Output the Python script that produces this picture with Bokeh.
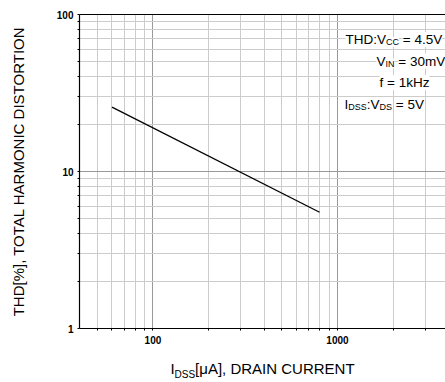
import math
from bokeh.plotting import figure
from bokeh.models import Range1d, FixedTicker, LogAxis, Label, PrintfTickFormatter
from bokeh.embed import file_html
from bokeh.resources import INLINE

# ---- data ----
idss_ua = [60, 800]          # drain current, uA
thd_pct = [25.7, 5.5]        # total harmonic distortion, %

x_major = [100, 1000]
x_minor = [50, 60, 70, 80, 90, 200, 300, 400, 500, 600, 700, 800, 900, 2000, 3000]
y_major = [1, 10, 100]
y_minor = [2, 3, 4, 5, 6, 7, 8, 9, 20, 30, 40, 50, 60, 70, 80, 90]

FONT = "Liberation Sans"
FL, FT, FW, FH = 79, 14, 366, 314
FB = FT + FH
X0, X1 = 40, 3850

p = figure(x_axis_type="log", y_axis_type="log",
           x_range=Range1d(X0, X1), y_range=Range1d(1, 100),
           frame_width=FW, frame_height=FH,
           min_border_left=FL, min_border_right=0, min_border_top=FT,
           min_border_bottom=382 - FB,
           toolbar_location=None, output_backend="svg",
           background_fill_color="white", border_fill_color="white")
p.outline_line_color = None

p.xaxis.ticker = FixedTicker(ticks=x_major, minor_ticks=x_minor)
p.yaxis.ticker = FixedTicker(ticks=y_major, minor_ticks=y_minor)
for ax in (p.xaxis, p.yaxis):
    ax.formatter = PrintfTickFormatter(format="%d")
    ax.axis_line_color = "black"
    ax.axis_line_width = 1.2
    ax.major_tick_in = 0
    ax.major_tick_out = 2
    ax.minor_tick_in = 0
    ax.minor_tick_out = 2
    ax.major_tick_line_color = "black"
    ax.minor_tick_line_color = "black"
    ax.major_label_text_font = FONT
    ax.major_label_text_font_style = "bold"
    ax.major_label_text_font_size = "10px"
    ax.major_label_text_color = "black"
p.xaxis.major_label_standoff = 5
p.yaxis.major_label_standoff = 4

p.yaxis.axis_label = "THD[%], TOTAL HARMONIC DISTORTION"
p.yaxis.axis_label_text_font = FONT
p.yaxis.axis_label_text_font_size = "15px"
p.yaxis.axis_label_text_font_style = "normal"
p.yaxis.axis_label_text_color = "black"
p.yaxis.axis_label_standoff = 27

for g in (p.xgrid, p.ygrid):
    g.grid_line_color = "#999999"
    g.grid_line_width = 1
    g.minor_grid_line_color = "#cccccc"
    g.minor_grid_line_width = 1

top = LogAxis(ticker=FixedTicker(ticks=[]), axis_line_color="black",
              axis_line_width=1.2, major_label_text_font_size="0px",
              major_tick_out=0, minor_tick_out=0)
p.add_layout(top, "above")

p.line(idss_ua, thd_pct, line_color="black", line_width=1.3)

# ---- text helpers (Arial / Liberation Sans advance widths) ----
W = {" ": 278, "%": 889, ",": 278, ".": 278, ":": 278, "=": 584, "[": 278, "]": 278,
     "A": 667, "C": 722, "D": 722, "E": 667, "H": 722, "I": 278, "L": 556, "M": 833,
     "N": 722, "O": 778, "R": 722, "S": 667, "T": 611, "U": 722, "V": 667,
     "f": 278, "k": 500, "m": 833, "z": 500, "\u03bc": 576}
for d in "0123456789":
    W[d] = 556


def tw(s, size):
    return sum(W.get(c, 556) for c in s) * size / 1000.0


def run(x0, base, runs, bg=None):
    x = x0
    for txt, size, drop in runs:
        lead = len(txt) - len(txt.lstrip(" "))
        x += tw(" " * lead, size)
        body = txt.lstrip(" ")
        p.add_layout(Label(x=x - FL, y=FB - (base + drop), x_units="screen", y_units="screen",
                           text=body, text_font=FONT, text_font_size=f"{size}px",
                           text_color="black", text_align="left", text_baseline="alphabetic",
                           background_fill_color=bg))
        x += tw(body, size)


# annotation block
run(345, 39, [("THD:V", 13.5, 0), ("CC", 9, 2.5), (" = 4.5V", 13.5, 0)], bg="white")
run(376, 60.5, [("V", 13.5, 0), ("IN", 9, 2.5), (" = 30mV", 13.5, 0)], bg="white")
run(379, 82, [("f = 1kHz", 13.5, 0)], bg="white")
run(344, 104, [("I", 13.5, 0), ("DSS", 9, 2.5), (":V", 13.5, 0), ("DS", 9, 2.5), (" = 5V", 13.5, 0)], bg="white")


# ---- x axis title "I_DSS[uA], DRAIN CURRENT" carried by two text-only axes ----
def px_to_x(px):
    return X0 * 10 ** ((px - FL) / FW * math.log10(X1 / X0))


t_main = ["I", "[\u03bcA], DRAIN CURRENT"]
t_sub = "DSS"
S_MAIN, S_SUB = 15, 10
total = tw(t_main[0], S_MAIN) + tw(t_sub, S_SUB) + tw(t_main[1], S_MAIN)
start = FL + FW / 2 - total / 2
c_i = start + tw(t_main[0], S_MAIN) / 2
c_sub = start + tw(t_main[0], S_MAIN) + tw(t_sub, S_SUB) / 2
c_rest = start + tw(t_main[0], S_MAIN) + tw(t_sub, S_SUB) + tw(t_main[1], S_MAIN) / 2

k_i, k_rest, k_sub = px_to_x(c_i), px_to_x(c_rest), px_to_x(c_sub)


def text_axis(ticks, labels, size, standoff):
    ax = LogAxis(ticker=FixedTicker(ticks=ticks, minor_ticks=[]),
                 major_label_overrides=dict(zip(ticks, labels)),
                 axis_line_color=None, major_tick_line_color=None,
                 minor_tick_line_color=None, major_tick_out=0, minor_tick_out=0,
                 major_tick_in=0, minor_tick_in=0,
                 major_label_standoff=standoff,
                 major_label_text_font=FONT, major_label_text_font_size=f"{size}px",
                 major_label_text_font_style="normal", major_label_text_color="black")
    p.add_layout(ax, "below")


text_axis([k_i, k_rest], t_main, S_MAIN, 13)
text_axis([k_sub], [t_sub], S_SUB, -11)

open("out.html", "w").write(file_html(p, INLINE))
